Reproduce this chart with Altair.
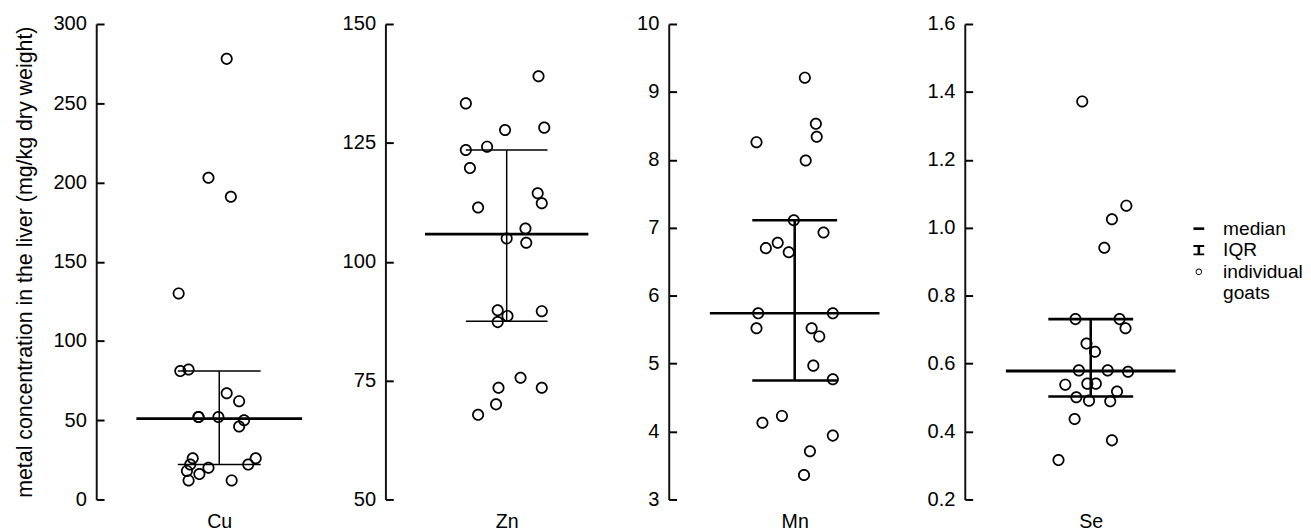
import altair as alt
import pandas as pd

FONT = "Liberation Sans"

metals = ["Cu", "Zn", "Mn", "Se"]

cu_values = [278, 203, 191, 130, 81, 82, 67, 62, 52, 52, 52, 50, 46, 26, 26, 22, 20, 22, 18, 16, 12, 12]
cu_jitter = [0.09, -0.13, 0.14, -0.49, -0.47, -0.37, 0.09, 0.24, -0.25, -0.25, -0.01, 0.30, 0.24,
             -0.32, 0.44, -0.35, -0.13, 0.35, -0.39, -0.24, -0.37, 0.15]

zn_values = [139, 133.3, 128.2, 127.7, 123.5, 124.2, 119.7, 114.4, 112.3, 111.4, 107, 104.9, 104,
             89.8, 88.6, 87.3, 89.6, 75.6, 73.5, 73.5, 70, 67.8]
zn_jitter = [0.39, -0.50, 0.46, -0.02, -0.50, -0.24, -0.45, 0.38, 0.43, -0.35, 0.23, 0.0, 0.24,
             -0.11, 0.01, -0.11, 0.43, 0.17, -0.10, 0.43, -0.13, -0.35]

mn_values = [9.21, 8.53, 8.34, 8.26, 7.99, 7.11, 6.93, 6.78, 6.70, 6.64, 5.74, 5.74, 5.52, 5.52,
             5.40, 4.97, 4.77, 4.23, 4.13, 3.94, 3.71, 3.36]
mn_jitter = [0.12, 0.25, 0.26, -0.45, 0.13, -0.01, 0.34, -0.20, -0.34, -0.07, -0.43, 0.45, -0.45,
             0.20, 0.29, 0.22, 0.45, -0.15, -0.38, 0.45, 0.18, 0.11]

se_values = [1.372, 1.065, 1.025, 0.941, 0.731, 0.731, 0.704, 0.659, 0.635, 0.580, 0.580, 0.576,
             0.538, 0.541, 0.541, 0.518, 0.501, 0.491, 0.489, 0.437, 0.374, 0.316]
se_jitter = [-0.10, 0.42, 0.25, 0.16, -0.18, 0.34, 0.41, -0.05, 0.05, -0.14, 0.20, 0.44, -0.30,
             -0.04, 0.06, 0.31, -0.17, -0.02, 0.23, -0.19, 0.25, -0.38]

medians = [51, 105.8, 5.74, 0.578]
q1s = [22, 87.5, 4.75, 0.503]
q3s = [81, 123.5, 7.11, 0.731]

y_domains = [[0, 300], [50, 150], [3, 10], [0.2, 1.6]]
y_ticks = [
    [0, 50, 100, 150, 200, 250, 300],
    [50, 75, 100, 125, 150],
    [3, 4, 5, 6, 7, 8, 9, 10],
    [0.2, 0.4, 0.6, 0.8, 1.0, 1.2, 1.4, 1.6],
]
y_formats = ["d", "d", "d", ".1f"]
y_title = "metal concentration in the liver (mg/kg dry weight)"

legend_kinds = ["median", "IQR", "individual goats"]

values = [cu_values, zn_values, mn_values, se_values]
jitters = [cu_jitter, zn_jitter, mn_jitter, se_jitter]

# layout / style constants
panel_widths = [210, 207, 215, 215]
axis_extents = [None, 52.5, 48.6, 54.1]
median_widths = [3, 3, 2.6, 3]
iqr_widths = [1.5, 1.5, 2.6, 2.6]
PLOT_H = 485

RING = ("M0.6,0A0.6,0.6,0,1,1,-0.6,0A0.6,0.6,0,1,1,0.6,0Z"
        "M0.43,0A0.43,0.43,0,1,0,-0.43,0A0.43,0.43,0,1,0,0.43,0Z")
DASH = "M-1,-0.24H1V0.24H-1Z"
IBEAM = "M-1,-0.95H1V-0.6H0.24V0.6H1V0.95H-1V0.6H-0.24V-0.6H-1Z"


def panel(i):
    name = metals[i]
    pts = pd.DataFrame({"value": values[i], "jitter": jitters[i]})
    pts["kind"] = legend_kinds[2]
    stats = pd.DataFrame({"median": [medians[i]], "q1": [q1s[i]], "q3": [q3s[i]]})
    caps = pd.DataFrame({"q": [q1s[i], q3s[i]]})

    xs = alt.Scale(domain=[-1.485, 1], nice=False, zero=False)
    ys = alt.Scale(domain=y_domains[i], nice=False, zero=False)

    xaxis = alt.Axis(values=[0], labelExpr=f"'{name}'", domain=False, ticks=False, grid=False,
                     title=None, labelPadding=13, labelFontSize=20, labelColor="black",
                     labelFont=FONT)
    yargs = dict(values=y_ticks[i], format=y_formats[i], grid=True, gridDash=[8, 4000],
                 gridColor="black", gridWidth=2, gridOpacity=1, ticks=False, tickSize=0,
                 domain=True, domainColor="#111", domainWidth=2, labelPadding=10,
                 labelFontSize=20.5, labelColor="black", labelFont=FONT)
    if i == 0:
        yargs.update(title=y_title, titleFontSize=21.8, titleFontWeight="normal",
                     titleColor="black", titleFont=FONT, titlePadding=16.5)
    else:
        yargs.update(title=None, minExtent=axis_extents[i], maxExtent=axis_extents[i])
    yaxis = alt.Axis(**yargs)

    if i == 3:
        leg = alt.Legend(title=None, orient="none", legendX=1115, legendY=199,
                         symbolSize=121, symbolStrokeWidth=0, symbolFillColor="black",
                         symbolOpacity=1, labelFontSize=19.5, labelColor="black", labelFont=FONT,
                         labelOffset=15, rowPadding=1, padding=0,
                         labelExpr="datum.label == 'individual goats' ? ['individual', 'goats'] : datum.label")
        points = alt.Chart(pts).mark_point(size=420, filled=True, fill="black", strokeWidth=0,
                                           opacity=1).encode(
            x=alt.X("jitter:Q", scale=xs, axis=xaxis),
            y=alt.Y("value:Q", scale=ys, axis=yaxis),
            shape=alt.Shape("kind:N", scale=alt.Scale(domain=legend_kinds, range=[DASH, IBEAM, RING]),
                            legend=leg),
        )
    else:
        points = alt.Chart(pts).mark_point(size=420, shape=RING, filled=True, fill="black",
                                           strokeWidth=0, opacity=1).encode(
            x=alt.X("jitter:Q", scale=xs, axis=xaxis),
            y=alt.Y("value:Q", scale=ys, axis=yaxis),
        )

    med = alt.Chart(stats).mark_rule(color="black", strokeWidth=median_widths[i]).encode(
        x=alt.XDatum(-1, type="quantitative", scale=xs, axis=xaxis),
        x2=alt.datum(1),
        y=alt.Y("median:Q", scale=ys, axis=yaxis),
    )
    stem = alt.Chart(stats).mark_rule(color="black", strokeWidth=iqr_widths[i]).encode(
        x=alt.XDatum(0, type="quantitative", scale=xs, axis=xaxis),
        y=alt.Y("q1:Q", scale=ys, axis=yaxis),
        y2="q3:Q",
    )
    cap = alt.Chart(caps).mark_rule(color="black", strokeWidth=iqr_widths[i]).encode(
        x=alt.XDatum(-0.5, type="quantitative", scale=xs, axis=xaxis),
        x2=alt.datum(0.5),
        y=alt.Y("q:Q", scale=ys, axis=yaxis),
    )
    return alt.layer(stem, cap, med, points).properties(width=panel_widths[i], height=PLOT_H)


chart = alt.hconcat(*[panel(i) for i in range(4)], spacing=30).properties(
    padding={"left": 6, "top": 0, "right": 0, "bottom": 0}
).configure(font=FONT, background="white").configure_view(stroke="transparent")

chart.save("out.html", embed_options={"renderer": "svg", "actions": False})
